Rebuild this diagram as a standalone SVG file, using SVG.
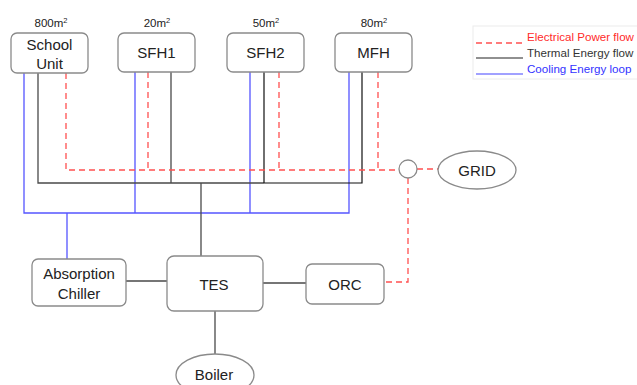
<svg xmlns="http://www.w3.org/2000/svg" width="637" height="385" viewBox="0 0 637 385">
  <style>
    .box { fill: #ffffff; stroke: #8a8a8a; stroke-width: 1.3; }
    .lbl { font-family: "Liberation Sans", Arial, sans-serif; font-size: 15px; fill: #222; text-anchor: middle; }
    .area { font-family: "Liberation Sans", Arial, sans-serif; font-size: 11.5px; fill: #222; text-anchor: middle; }
    .sup { font-size: 7.5px; }
    .elec { fill: none; stroke: #ff5050; stroke-width: 1.3; stroke-dasharray: 6 4; }
    .therm { fill: none; stroke: #4a4a4a; stroke-width: 1.3; }
    .therm-k { fill: none; stroke: #111; stroke-width: 1.2; }
    .cool { fill: none; stroke: #5555ff; stroke-width: 1.3; }
    .leg { font-family: "Liberation Sans", Arial, sans-serif; font-size: 11.6px; }
  </style>
  <rect width="637" height="385" fill="#ffffff"/>

  <!-- connectors -->
  <g id="connectors">
    <!-- cooling loop -->
    <path class="cool" d="M24 73 V213 H349 V72"/>
    <path class="cool" d="M135 72 V213 M250 72 V213 M67 213 V259"/>
    <!-- thermal distribution -->
    <path class="therm" d="M38 73 V183 H264"/>
    <path class="therm-k" d="M264 183 H362 V72 M264 72 V183"/>
    <path class="therm" d="M171 72 V183 M201 183 V256"/>
    <path class="therm" d="M126 281 H167 M263 283 H306 M215 311 V354"/>
    <!-- electrical network -->
    <path class="elec" d="M66 73 V170 H399"/>
    <path class="elec" d="M148 72 V170 M279 72 V170 M378 72 V170"/>
    <path class="elec" d="M417 169 H438"/>
    <path class="elec" d="M408 178 V282 H386"/>
  </g>

  <!-- buildings -->
  <g id="school">
    <text class="area" x="51" y="27">800m<tspan class="sup" dy="-4">2</tspan></text>
    <rect class="box" x="11" y="33" width="77" height="40" rx="6"/>
    <text class="lbl" x="49.5" y="50">School</text>
    <text class="lbl" x="49.5" y="69">Unit</text>
  </g>
  <g id="sfh1">
    <text class="area" x="157" y="27">20m<tspan class="sup" dy="-4">2</tspan></text>
    <rect class="box" x="118" y="33" width="77" height="39" rx="6"/>
    <text class="lbl" x="156.5" y="58">SFH1</text>
  </g>
  <g id="sfh2">
    <text class="area" x="266" y="27">50m<tspan class="sup" dy="-4">2</tspan></text>
    <rect class="box" x="227" y="33" width="77" height="39" rx="6"/>
    <text class="lbl" x="265.5" y="58">SFH2</text>
  </g>
  <g id="mfh">
    <text class="area" x="374" y="27">80m<tspan class="sup" dy="-4">2</tspan></text>
    <rect class="box" x="335" y="33" width="77" height="39" rx="6"/>
    <text class="lbl" x="373.5" y="58">MFH</text>
  </g>

  <!-- grid connection -->
  <g id="junction">
    <circle class="box" cx="408" cy="169" r="9"/>
  </g>
  <g id="grid">
    <ellipse class="box" cx="477" cy="170" rx="39" ry="19"/>
    <text class="lbl" x="477" y="175.5">GRID</text>
  </g>

  <!-- plant -->
  <g id="chiller">
    <rect class="box" x="32" y="259" width="94" height="47" rx="6"/>
    <text class="lbl" x="79" y="279">Absorption</text>
    <text class="lbl" x="79" y="299">Chiller</text>
  </g>
  <g id="tes">
    <rect class="box" x="167" y="256" width="96" height="55" rx="7"/>
    <text class="lbl" x="214" y="290">TES</text>
  </g>
  <g id="orc">
    <rect class="box" x="306" y="264" width="78" height="40" rx="6"/>
    <text class="lbl" x="345" y="289.5">ORC</text>
  </g>
  <g id="boiler">
    <ellipse class="box" cx="215" cy="375" rx="39" ry="21"/>
    <text class="lbl" x="214" y="380">Boiler</text>
  </g>

  <!-- legend -->
  <g id="legend">
    <rect x="473" y="26" width="170" height="53" fill="#ffffff" stroke="#ececec" stroke-width="1"/>
    <line class="elec" x1="476" y1="43" x2="522" y2="43"/>
    <text class="leg" x="527" y="41" fill="#ff2a2a">Electrical Power flow</text>
    <line x1="476" y1="58" x2="523" y2="58" stroke="#222" stroke-width="1.2"/>
    <text class="leg" x="527" y="57" fill="#333">Thermal Energy flow</text>
    <line x1="476" y1="74" x2="523" y2="74" stroke="#4444ff" stroke-width="1.2"/>
    <text class="leg" x="527" y="73" fill="#3333ff">Cooling Energy loop</text>
  </g>
</svg>
